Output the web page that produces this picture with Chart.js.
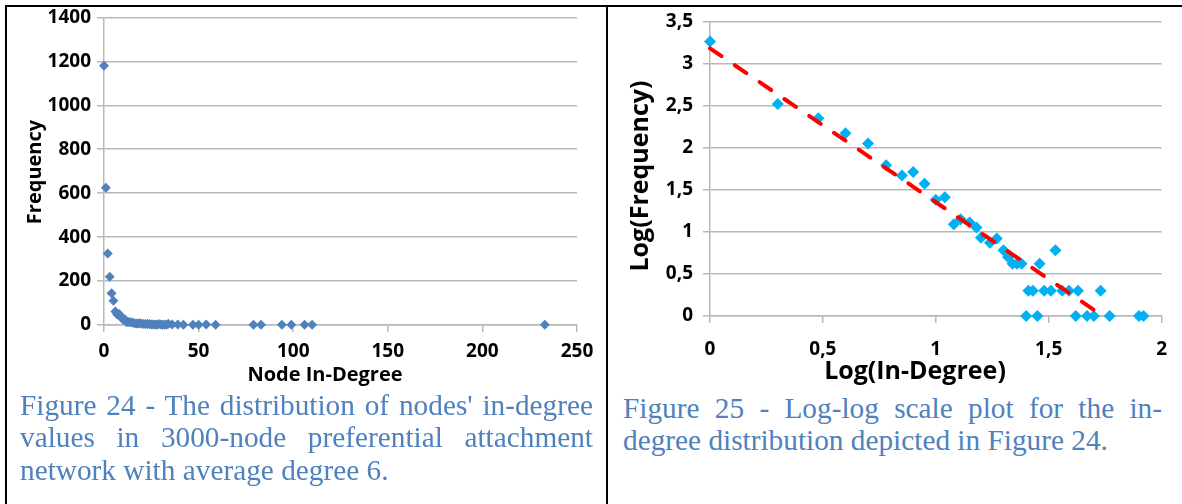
<!DOCTYPE html>
<html>
<head>
<meta charset="utf-8">
<script src="https://cdn.jsdelivr.net/npm/chart.js@4/dist/chart.umd.min.js"></script>
<style>
  body { margin: 0; background: #fff; width: 1182px; height: 504px; overflow: hidden; position: relative; }
  canvas { position: absolute; top: 0; }
  #left { left: 5px; }
  #right { left: 609px; }
  .line { position: absolute; background: #000; }
  .cap { position: absolute; font-family: "Liberation Serif", "Times New Roman", serif; font-size: 29.3px;
         color: #4f81bd; line-height: 32.5px; white-space: nowrap; }
  .just { text-align: justify; text-align-last: justify; }
</style>
</head>
<body>
<div class="line" style="left:5px;top:5px;width:1177px;height:2px"></div>
<div class="line" style="left:5px;top:5px;width:2px;height:499px"></div>
<div class="line" style="left:606px;top:5px;width:2px;height:499px"></div>

<canvas id="left" width="600" height="392"></canvas>
<canvas id="right" width="573" height="392"></canvas>

<div class="cap just" style="left:20px;top:389px;width:573px">Figure 24 - The distribution of nodes' in-degree</div>
<div class="cap just" style="left:20px;top:421px;width:573px">values in 3000-node preferential attachment</div>
<div class="cap" style="left:20px;top:454px">network with average degree 6.</div>
<div class="cap just" style="left:623px;top:392px;width:539px">Figure 25 - Log-log scale plot for the in-</div>
<div class="cap" style="left:623px;top:424px">degree distribution depicted in Figure 24.</div>

<script>
// left chart: raw in-degree distribution
const inDegree = [0, 1, 2, 3, 4, 5, 6, 7, 8, 9, 10, 11, 12, 13, 14, 15, 16, 17, 18, 19, 20, 21, 22, 23, 24, 25, 26, 27,
                  28, 29, 30, 31, 32, 33, 34, 36, 39, 42, 47, 50, 54, 59, 79, 83, 94, 99, 106, 110, 233];
const frequency = [1180, 625, 325, 220, 145, 110, 62, 48, 50, 37, 25, 26, 13, 14, 13, 11, 8, 7, 7, 8, 6, 5, 4, 4, 4, 2, 2, 2,
                   1, 4, 2, 1, 2, 1, 6, 2, 2, 1, 1, 1, 2, 1, 1, 1, 1, 1, 1, 1, 1];
const degTicks = [0, 50, 100, 150, 200, 250];
const freqTicks = [0, 200, 400, 600, 800, 1000, 1200, 1400];

// right chart: log-log
const logDegree = [0, 0.30, 0.48, 0.60, 0.70, 0.78, 0.85, 0.90, 0.95, 1.00, 1.04, 1.08, 1.11, 1.15, 1.18, 1.20, 1.24, 1.27,
                   1.30, 1.32, 1.34, 1.36, 1.38, 1.40, 1.41, 1.43, 1.45, 1.46, 1.48, 1.51, 1.53, 1.56, 1.59, 1.62, 1.63,
                   1.67, 1.70, 1.73, 1.77, 1.90, 1.92];
const logFreq = [3.26, 2.52, 2.35, 2.17, 2.05, 1.79, 1.67, 1.71, 1.57, 1.38, 1.41, 1.09, 1.15, 1.11, 1.05, 0.93, 0.87, 0.92,
                 0.78, 0.70, 0.62, 0.62, 0.62, 0, 0.30, 0.30, 0, 0.62, 0.30, 0.30, 0.78, 0.30, 0.30, 0, 0.30,
                 0, 0, 0.30, 0, 0, 0];
const trendX = [0, 1.74];
const trendY = [3.18, 0];
const logXTicks = [0, 0.5, 1, 1.5, 2];
const logYTicks = [0, 0.5, 1, 1.5, 2, 2.5, 3, 3.5];

const gridGray = "#b8b8b8";
const fontFam = "'Open Sans', 'DejaVu Sans', sans-serif";

// draws the axis titles where the original puts them
const axisTitles = {
  id: "axisTitles",
  afterDraw(chart, args, opts) {
    const ctx = chart.ctx;
    ctx.save();
    ctx.fillStyle = "#000";
    ctx.textAlign = "center";
    ctx.textBaseline = "middle";
    ctx.font = "bold " + opts.size + "px " + fontFam;
    ctx.fillText(opts.x.text, opts.x.cx, opts.x.cy);
    ctx.translate(opts.y.cx, opts.y.cy);
    ctx.rotate(-Math.PI / 2);
    ctx.fillText(opts.y.text, 0, 0);
    ctx.restore();
  }
};

function axes(xMin, xMax, xTicks, yMin, yMax, yTicks, yWidth, xHeight, yPad, xPad, fmt) {
  const tickFont = { family: fontFam, size: 19, weight: "bold" };
  return {
    x: {
      type: "linear", min: xMin, max: xMax,
      afterFit: s => { s.height = xHeight; },
      afterBuildTicks: s => { s.ticks = xTicks.map(v => ({ value: v })); },
      grid: { drawOnChartArea: false, drawTicks: true, tickLength: 7, color: gridGray, lineWidth: 1.5 },
      border: { display: true, color: gridGray, width: 1.5 },
      ticks: { padding: xPad, color: "#000", font: tickFont, callback: fmt }
    },
    y: {
      type: "linear", min: yMin, max: yMax,
      afterFit: s => { s.width = yWidth; },
      afterBuildTicks: s => { s.ticks = yTicks.map(v => ({ value: v })); },
      grid: { drawTicks: true, tickLength: 7, color: gridGray, lineWidth: 1.5 },
      border: { display: true, color: gridGray, width: 1.5 },
      ticks: { padding: yPad, color: "#000", font: tickFont, callback: fmt }
    }
  };
}

new Chart(document.getElementById("left"), {
  type: "scatter",
  data: {
    datasets: [{
      data: inDegree.map((d, i) => ({ x: d, y: frequency[i] })),
      pointStyle: "rectRot", pointRadius: 5, pointHoverRadius: 5,
      backgroundColor: "#4f81bd", borderColor: "#4f81bd", borderWidth: 0, clip: false
    }]
  },
  options: {
    responsive: false, animation: false,
    layout: { padding: { left: 0, right: 28, top: 16, bottom: 0 } },
    plugins: {
      legend: { display: false }, tooltip: { enabled: false },
      axisTitles: { size: 20, x: { text: "Node In-Degree", cx: 320, cy: 375 }, y: { text: "Frequency", cx: 30, cy: 172 } }
    },
    scales: axes(0, 250, degTicks, 0, 1400, freqTicks, 99, 67, 6, 8, v => String(v))
  },
  plugins: [axisTitles]
});

new Chart(document.getElementById("right"), {
  type: "scatter",
  data: {
    datasets: [{
      type: "line",
      data: trendX.map((v, i) => ({ x: v, y: trendY[i] })),
      borderColor: "#ff0000", borderWidth: 4, borderDash: [14, 16], borderCapStyle: "round",
      pointRadius: 0, fill: false, order: 0, clip: false
    }, {
      data: logDegree.map((v, i) => ({ x: v, y: logFreq[i] })),
      pointStyle: "rectRot", pointRadius: 6, pointHoverRadius: 6,
      backgroundColor: "#00b0f0", borderColor: "#00b0f0", borderWidth: 0, order: 1, clip: false
    }]
  },
  options: {
    responsive: false, animation: false,
    layout: { padding: { left: 0, right: 17, top: 17, bottom: 0 } },
    plugins: {
      legend: { display: false }, tooltip: { enabled: false },
      axisTitles: { size: 25, x: { text: "Log(In-Degree)", cx: 306, cy: 372 }, y: { text: "Log(Frequency)", cx: 32, cy: 176 } }
    },
    scales: axes(0, 2, logXTicks, 0, 3.5, logYTicks, 101, 76, 10, 15, v => String(v).replace(".", ","))
  },
  plugins: [axisTitles]
});
</script>
</body>
</html>
